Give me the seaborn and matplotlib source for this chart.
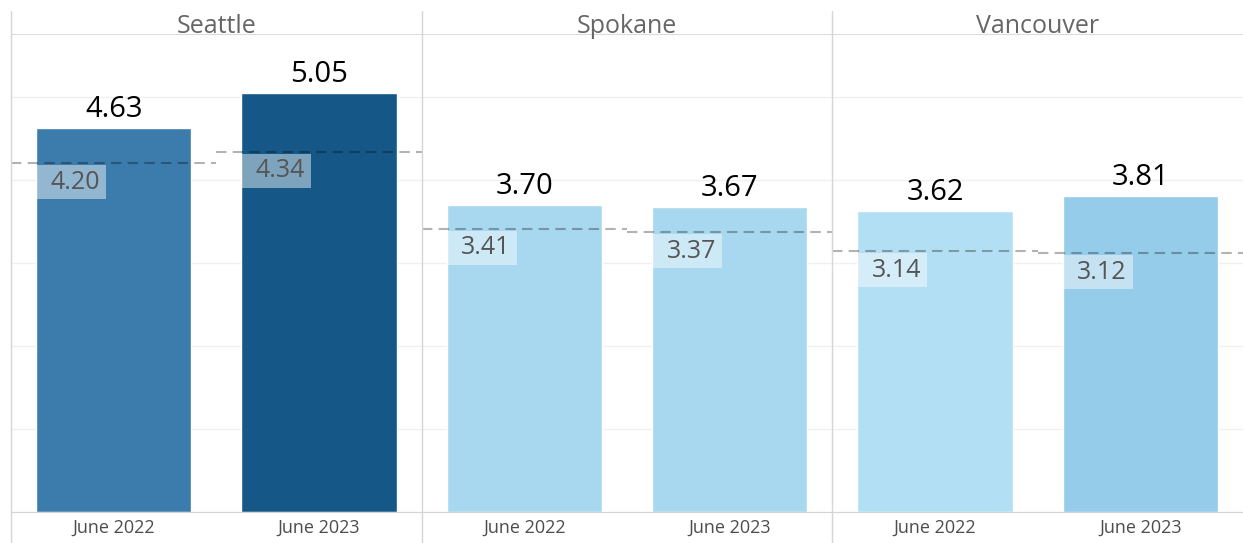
import pandas as pd
import matplotlib.pyplot as plt
import seaborn as sns
from matplotlib.lines import Line2D
from matplotlib.patches import Rectangle

# Chart values
cities = ['Seattle', 'Spokane', 'Vancouver']
periods = ['June 2022', 'June 2023']
seattle_vals = [4.63, 5.05]
spokane_vals = [3.70, 3.67]
vancouver_vals = [3.62, 3.81]
seattle_refs = [4.20, 4.34]
spokane_refs = [3.41, 3.37]
vancouver_refs = [3.14, 3.12]

values = [seattle_vals, spokane_vals, vancouver_vals]
refs = [seattle_refs, spokane_refs, vancouver_refs]
palettes = [['#3C7CAC', '#155887'],
            ['#A7D8F0', '#A7D8F0'],
            ['#B2DFF3', '#94CCE9']]

sns.set_style('white')
plt.rcParams['font.family'] = ['Open Sans', 'DejaVu Sans']

W, H = 1243, 543
fig = plt.figure(figsize=(W / 100, H / 100), dpi=100)
axes = fig.subplots(1, 3, sharey=True, gridspec_kw=dict(wspace=0))
fig.subplots_adjust(left=11 / W, right=1.0, bottom=1 - 511.7 / H, top=1 - 34 / H)

bar_w = 0.755
for ax, city, vals, rr, pal in zip(axes, cities, values, refs, palettes):
    df = pd.DataFrame({'period': periods, 'value': vals})
    sns.barplot(data=df, x='period', y='value', hue='period', palette=pal,
                width=bar_w, saturation=1, legend=False, ax=ax)
    ax.set_ylim(0, 5.76)
    ax.set_xlim(-0.5, 1.5)
    ax.set_yticks([0, 1, 2, 3, 4, 5])
    ax.yaxis.grid(True, color='#f0f0f0', lw=1)
    ax.set_axisbelow(True)
    ax.tick_params(axis='y', left=False, labelleft=False)
    ax.tick_params(axis='x', length=0, pad=5, labelsize=13, labelcolor='#4d4d4d')
    ax.set_xlabel('')
    ax.set_ylabel('')
    for s in ['left', 'right']:
        ax.spines[s].set_visible(False)
    ax.spines['top'].set_color('#dcdcdc')
    ax.spines['bottom'].set_color('#d4d4d4')
    ax.set_title(city, fontsize=18, color='#666666', pad=1)

    # value labels above bars
    for cont in ax.containers:
        ax.bar_label(cont, fmt='%.2f', padding=3, fontsize=21, color='#000000')

    # reference lines with boxed labels
    for i, r in enumerate(rr):
        ax.hlines(r, i - 0.5, i + 0.5, colors='black', alpha=0.3, lw=1.5,
                  linestyles=(0, (5, 3)), zorder=4)
        x0 = i - bar_w / 2
        box_top = r - 0.025
        box_h = 0.41
        ax.add_patch(Rectangle((x0, box_top - box_h), 0.34, box_h,
                               facecolor='white', alpha=0.45, lw=0, zorder=5))
        ax.text(x0 + 0.07, box_top - box_h / 2, f'{r:.2f}', ha='left', va='center',
                fontsize=18, color='#555555', zorder=6)

# panel separators reaching through header and tick area
for ax in axes:
    x = ax.get_position().x0
    fig.add_artist(Line2D([x, x], [0, 1 - 11 / H], transform=fig.transFigure,
                          color='#d6d6d6', lw=1))

fig.savefig('out.png', dpi=100)
